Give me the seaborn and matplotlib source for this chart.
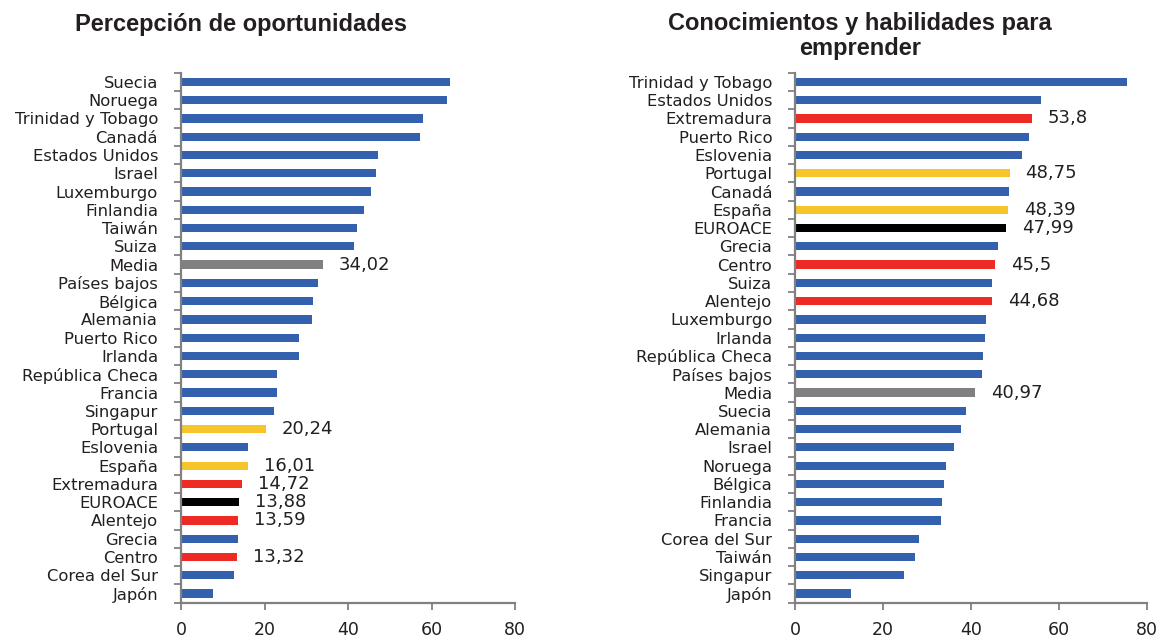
import matplotlib
matplotlib.use("Agg")
import matplotlib.pyplot as plt
import seaborn as sns
from matplotlib.ticker import FixedLocator

# ---------------- data ----------------
left_title = "Percepción de oportunidades"
left_cats = ["Suecia", "Noruega", "Trinidad y Tobago", "Canadá", "Estados Unidos", "Israel",
             "Luxemburgo", "Finlandia", "Taiwán", "Suiza", "Media", "Países bajos", "Bélgica",
             "Alemania", "Puerto Rico", "Irlanda", "República Checa", "Francia", "Singapur",
             "Portugal", "Eslovenia", "España", "Extremadura", "EUROACE", "Alentejo", "Grecia",
             "Centro", "Corea del Sur", "Japón"]
left_vals = [64.5, 63.6, 58.0, 57.3, 47.2, 46.6, 45.6, 43.9, 42.1, 41.5, 34.02, 32.7, 31.5,
             31.3, 28.3, 28.3, 23.0, 22.9, 22.3, 20.24, 16.1, 16.01, 14.72, 13.88, 13.59, 13.6,
             13.32, 12.8, 7.7]
left_labels = {"Media": "34,02", "Portugal": "20,24", "España": "16,01", "Extremadura": "14,72",
               "EUROACE": "13,88", "Alentejo": "13,59", "Centro": "13,32"}

right_title = "Conocimientos y habilidades para\nemprender"
right_cats = ["Trinidad y Tobago", "Estados Unidos", "Extremadura", "Puerto Rico", "Eslovenia",
              "Portugal", "Canadá", "España", "EUROACE", "Grecia", "Centro", "Suiza", "Alentejo",
              "Luxemburgo", "Irlanda", "República Checa", "Países bajos", "Media", "Suecia",
              "Alemania", "Israel", "Noruega", "Bélgica", "Finlandia", "Francia", "Corea del Sur",
              "Taiwán", "Singapur", "Japón"]
right_vals = [75.4, 55.8, 53.8, 53.1, 51.5, 48.75, 48.6, 48.39, 47.99, 46.1, 45.5, 44.8, 44.68,
              43.3, 43.2, 42.7, 42.4, 40.97, 38.8, 37.7, 36.2, 34.2, 33.9, 33.3, 33.2, 28.1,
              27.2, 24.8, 12.8]
right_labels = {"Extremadura": "53,8", "Portugal": "48,75", "España": "48,39", "EUROACE": "47,99",
                "Centro": "45,5", "Alentejo": "44,68", "Media": "40,97"}

x_ticks = [0, 20, 40, 60, 80]

# ---------------- styles ----------------
BLUE = "#3461AD"
RED = "#EE2A24"
YELLOW = "#F6C52B"
BLACK = "#000000"
GREY = "#808080"
special = {"Extremadura": RED, "Alentejo": RED, "Centro": RED,
           "Portugal": YELLOW, "España": YELLOW, "EUROACE": BLACK, "Media": GREY}

sns.set_theme(style="white")
plt.rcParams["font.family"] = ["DejaVu Sans"]
TEXT = "#231F20"
TITLE_FONT = ["Liberation Sans", "DejaVu Sans"]

fig = plt.figure(figsize=(11.59, 6.39), dpi=100)
axL = fig.add_axes([0.1562, 0.0568, 0.2882, 0.8294])
axR = fig.add_axes([0.6860, 0.0568, 0.3037, 0.8294])


def draw(ax, cats, vals, labels):
    palette = {c: special.get(c, BLUE) for c in cats}
    sns.barplot(x=vals, y=cats, hue=cats, palette=palette, legend=False,
                orient="h", width=0.45, ax=ax, saturation=1, linewidth=0)
    ax.set_xlim(0, 80)
    ax.set_ylim(len(cats) - 0.5, -0.5)
    ax.set_xlabel("")
    ax.set_ylabel("")
    for s in ["top", "right"]:
        ax.spines[s].set_visible(False)
    for s in ["left", "bottom"]:
        ax.spines[s].set_color(GREY)
        ax.spines[s].set_linewidth(1.6)
    ax.xaxis.set_major_locator(FixedLocator(x_ticks))
    ax.set_xticklabels([str(t) for t in x_ticks])
    ax.tick_params(axis="x", which="major", direction="out", length=5, width=1.3,
                   color=GREY, pad=8, labelsize=12.5, labelcolor=TEXT, bottom=True)
    ax.set_yticks(range(len(cats)))
    ax.set_yticklabels(cats)
    ax.tick_params(axis="y", which="major", length=0, pad=16.5, labelsize=11.8,
                   labelcolor=TEXT, left=True)
    ax.yaxis.set_minor_locator(FixedLocator([i - 0.5 for i in range(len(cats) + 1)]))
    ax.tick_params(axis="y", which="minor", direction="out", length=5, width=1.3,
                   color=GREY, left=True)
    ax.grid(False)
    for i, c in enumerate(cats):
        if c in labels:
            ax.annotate(labels[c], xy=(vals[i], i), xytext=(11.5, 0), textcoords="offset points",
                        ha="left", va="center", fontsize=13, color=TEXT)


draw(axL, left_cats, left_vals, left_labels)
draw(axR, right_cats, right_vals, right_labels)

fig.text(241 / 1159, 1 - 24 / 639, left_title, ha="center", va="center",
         fontsize=17, fontweight="bold", color=TEXT, family=TITLE_FONT)
fig.text(860 / 1159, 1 - 36 / 639, right_title, ha="center", va="center",
         fontsize=17, fontweight="bold", color=TEXT, linespacing=1.12, family=TITLE_FONT)

fig.savefig("out.png", dpi=100)
